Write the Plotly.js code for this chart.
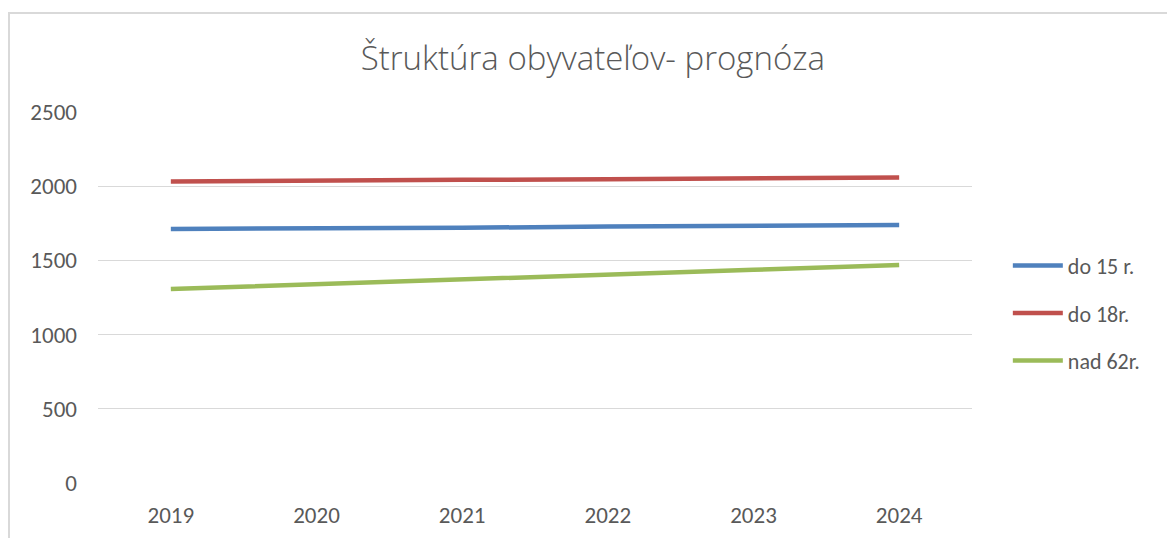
<!DOCTYPE html>
<html>
<head>
<meta charset="utf-8">
<script src="https://cdn.plot.ly/plotly-3.0.1.min.js"></script>
<style>
  html, body { margin: 0; padding: 0; background: #fff; }
  #wrap { position: relative; width: 1167px; height: 538px; }
  #chart { width: 1167px; height: 538px; }
  #frame { position: absolute; left: 8px; top: 12px; width: 1158px; height: 530px;
           border-left: 2px solid #d9d9d9; border-top: 2px solid #d9d9d9; pointer-events: none; }
</style>
</head>
<body>
<div id="wrap">
  <div id="chart"></div>
  <div id="frame"></div>
</div>
<script>
const years = ['2019', '2020', '2021', '2022', '2023', '2024'];
const do15 = [1712, 1713, 1720, 1728, 1730, 1739];
const do18 = [2032, 2040, 2043, 2047, 2050, 2059];
const nad62 = [1307, 1341, 1375, 1405, 1437, 1469];
const seriesNames = ['do 15 r.', 'do 18r.', 'nad 62r.'];
const colors = ['#4F81BD', '#C0504D', '#9BBB59'];
const yTicks = [0, 500, 1000, 1500, 2000, 2500];

const font = 'Carlito, "Liberation Sans Narrow", "Open Sans", sans-serif';
const traces = [do15, do18, nad62].map((vals, i) => ({
  type: 'scatter', mode: 'lines', x: years, y: vals, name: seriesNames[i],
  legendgroup: 'g' + i,
  line: { color: colors[i], width: 4.5 }
}));

const layout = {
  width: 1167, height: 538,
  margin: { l: 98, r: 195, t: 112, b: 55 },
  paper_bgcolor: '#fff', plot_bgcolor: '#fff',
  title: { text: 'Štruktúra obyvateľov- prognóza', x: 0.508, xanchor: 'center', y: 0.892, yanchor: 'middle',
           font: { family: '"Open Sans", sans-serif', size: 33, color: '#595959', weight: 300 } },
  xaxis: { type: 'category', range: [-0.5, 5.5], showgrid: false, zeroline: false, showline: false,
           ticks: '', tickfont: { family: font, size: 23, color: '#595959' }, ticklabelstandoff: 16 },
  yaxis: { range: [0, 2500], tickvals: yTicks, ticktext: yTicks.map(String), showgrid: true, gridcolor: '#d9d9d9',
           gridwidth: 1, zeroline: false, showline: false, ticks: '',
           tickfont: { family: font, size: 23, color: '#595959' }, ticklabelstandoff: 20 },
  showlegend: true,
  legend: { x: 1.041, xanchor: 'left', y: 0.458, yanchor: 'middle', font: { family: font, size: 22, color: '#595959' },
            tracegroupgap: 16, itemwidth: 50, bgcolor: 'rgba(0,0,0,0)' }
};
Plotly.newPlot('chart', traces, layout, { displayModeBar: false, staticPlot: true });
</script>
</body>
</html>
